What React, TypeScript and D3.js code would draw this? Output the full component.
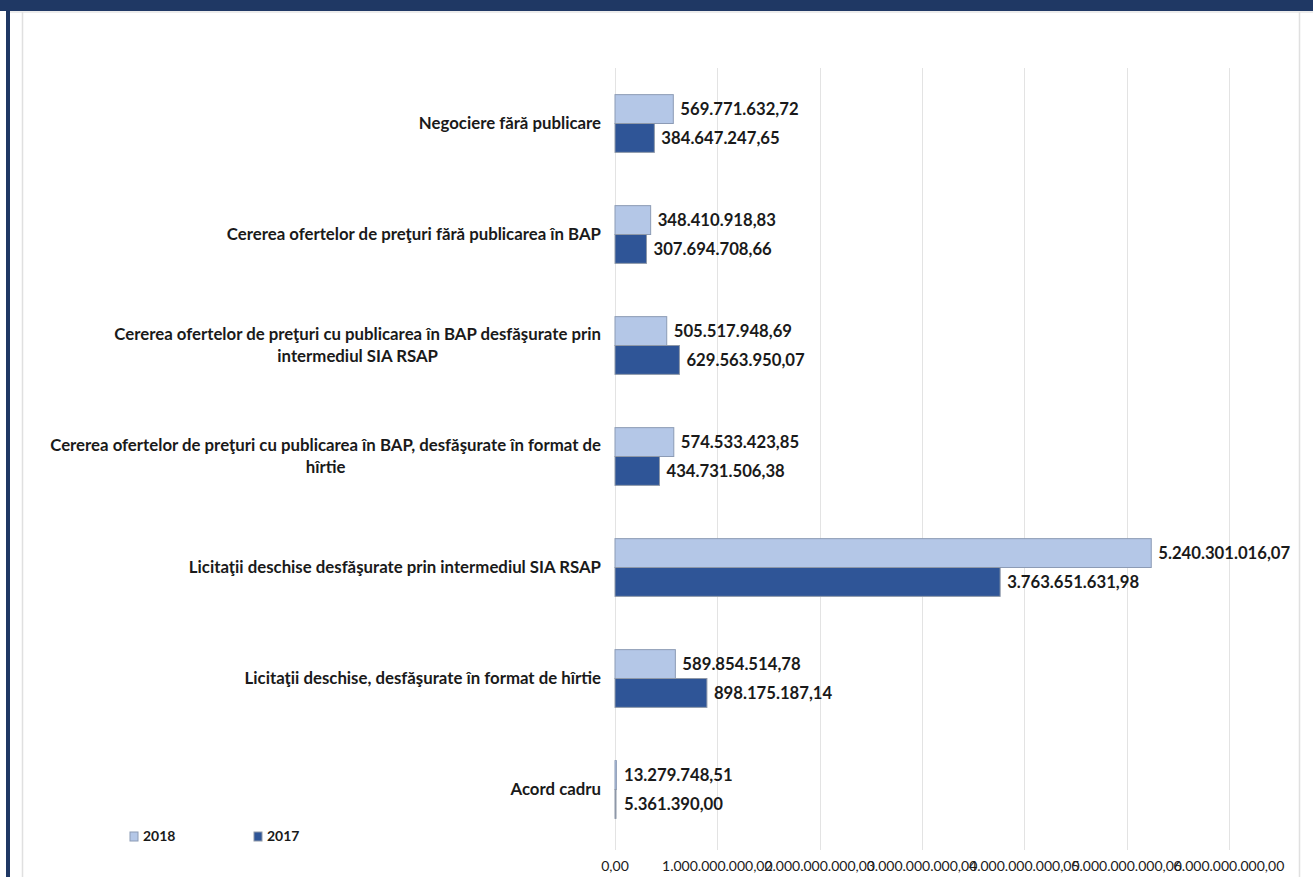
import React, { useEffect, useRef } from "react";
import * as d3 from "d3";

const categories: string[][] = [
  ["Negociere fără publicare"],
  ["Cererea ofertelor de preţuri fără publicarea în BAP"],
  ["Cererea ofertelor de preţuri cu publicarea în BAP desfăşurate prin", "intermediul SIA RSAP"],
  ["Cererea ofertelor de preţuri cu publicarea în BAP, desfăşurate în format de", "hîrtie"],
  ["Licitaţii deschise desfăşurate prin intermediul SIA RSAP"],
  ["Licitaţii deschise, desfăşurate în format de hîrtie"],
  ["Acord cadru"],
];
const values2018: number[] = [569771632.72, 348410918.83, 505517948.69, 574533423.85, 5240301016.07, 589854514.78, 13279748.51];
const values2017: number[] = [384647247.65, 307694708.66, 629563950.07, 434731506.38, 3763651631.98, 898175187.14, 5361390.0];
const seriesNames = ["2018", "2017"];
const xTicks: number[] = [0, 1e9, 2e9, 3e9, 4e9, 5e9, 6e9];

const W = 1313;
const H = 877;
const FONT = "Lato, 'Open Sans', sans-serif";

const fmt = (v: number) => {
  const [i, d] = v.toFixed(2).split(".");
  return i.replace(/\B(?=(\d{3})+(?!\d))/g, ".") + "," + d;
};

export default function App() {
  const ref = useRef<SVGSVGElement>(null);
  useEffect(() => {
    const svg = d3.select(ref.current);
    svg.selectAll("*").remove();

    // frame
    svg.append("rect").attr("x", 0).attr("y", 0).attr("width", W).attr("height", H).attr("fill", "#fff");
    svg.append("rect").attr("x", 0).attr("y", 0).attr("width", W).attr("height", 11).attr("fill", "#1f3864");
    svg.append("rect").attr("x", 6).attr("y", 0).attr("width", 4).attr("height", H).attr("fill", "#1f3864");
    svg.append("line").attr("x1", 10).attr("x2", W).attr("y1", 12).attr("y2", 12).attr("stroke", "#d9d9d9");
    svg.append("line").attr("x1", 22.5).attr("x2", 22.5).attr("y1", 12).attr("y2", H).attr("stroke", "#e0e0e0").attr("stroke-width", 1.5);
    svg.append("line").attr("x1", 1299.5).attr("x2", 1299.5).attr("y1", 12).attr("y2", H).attr("stroke", "#e0e0e0").attr("stroke-width", 1.5);

    const x = d3.scaleLinear().domain([0, 6e9]).range([615, 1229]);
    const y = d3.scaleBand<number>().domain(d3.range(categories.length)).range([68, 845]).paddingInner(0.48).paddingOuter(0.24);
    const sub = d3.scaleBand<string>().domain(seriesNames).range([0, y.bandwidth()]);

    // grid
    svg.append("g").selectAll("line").data(xTicks).join("line")
      .attr("x1", (d) => Math.round(x(d)) + 0.5).attr("x2", (d) => Math.round(x(d)) + 0.5)
      .attr("y1", 68).attr("y2", 850).attr("stroke", "#e3e3e3").attr("stroke-width", 1);

    // x labels
    svg.append("g").selectAll("text").data(xTicks).join("text")
      .attr("x", (d) => x(d)).attr("y", 871).attr("text-anchor", "middle")
      .attr("font-family", FONT).attr("font-size", 14).attr("fill", "#1a1a1a")
      .text((d) => fmt(d));

    const series = [
      { name: "2018", vals: values2018, fill: "#b4c7e7", stroke: "#8c9bb5" },
      { name: "2017", vals: values2017, fill: "#2f5597", stroke: "#8e98a8" },
    ];

    series.forEach((s) => {
      const g = svg.append("g");
      g.selectAll("rect").data(s.vals).join("rect")
        .attr("x", x(0)).attr("y", (_, i) => (y(i) as number) + (sub(s.name) as number))
        .attr("width", (d) => Math.max(1, x(d) - x(0))).attr("height", sub.bandwidth())
        .attr("fill", s.fill).attr("stroke", s.stroke).attr("stroke-width", 1);
      g.selectAll("text").data(s.vals).join("text")
        .attr("x", (d) => Math.max(x(d), x(0) + 2) + 7)
        .attr("y", (_, i) => (y(i) as number) + (sub(s.name) as number) + sub.bandwidth() / 2)
        .attr("dy", "0.35em").attr("font-family", FONT).attr("font-weight", 700).attr("font-size", 16.7)
        .attr("fill", "#1a1a1a").text((d) => fmt(d));
    });

    // category labels
    const right = 601;
    categories.forEach((lines, i) => {
      const cy = (y(i) as number) + y.bandwidth() / 2;
      const lh = 22;
      const g = svg.append("g");
      const texts = lines.map((l, j) =>
        g.append("text").attr("font-family", FONT).attr("font-weight", 700).attr("font-size", 16.8)
          .attr("fill", "#1a1a1a").attr("text-anchor", "middle")
          .attr("y", cy + (j - (lines.length - 1) / 2) * lh).attr("dy", "0.35em").text(l)
      );
      const widths = texts.map((t) => (t.node() as SVGTextElement).getComputedTextLength());
      const maxW = Math.max(...widths);
      const cx = right - maxW / 2;
      texts.forEach((t) => t.attr("x", cx));
    });

    // legend
    const leg = [
      { name: "2018", fill: "#b4c7e7", stroke: "#8c9bb5", x: 130 },
      { name: "2017", fill: "#2f5597", stroke: "#8e98a8", x: 254 },
    ];
    leg.forEach((l) => {
      svg.append("rect").attr("x", l.x).attr("y", 832).attr("width", 8).attr("height", 9)
        .attr("fill", l.fill).attr("stroke", l.stroke);
      svg.append("text").attr("x", l.x + 13).attr("y", 836.5).attr("dy", "0.35em")
        .attr("font-family", FONT).attr("font-weight", 700).attr("font-size", 14).attr("fill", "#1a1a1a").text(l.name);
    });
  }, []);

  return (
    <div style={{ position: "absolute", left: 0, top: 0 }}>
      <svg ref={ref} width={W} height={H} style={{ display: "block" }} />
    </div>
  );
}
